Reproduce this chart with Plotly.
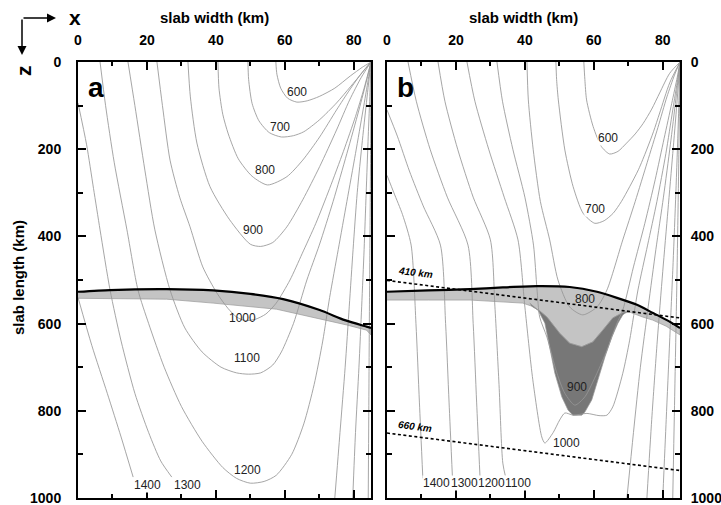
import plotly.graph_objects as go

FONT = "Liberation Sans, Arial, Helvetica, sans-serif"

# ---------------- tick values / labels ----------------
X_TICKS = [0, 20, 40, 60, 80]
X_MINOR = [10, 30, 50, 70]
Z_TICKS = [0, 200, 400, 600, 800, 1000]
Z_MINOR = [100, 300, 500, 700, 900]

# ---------------- panel a isotherms (x km, z km) ----------------
A600_X = [57.4, 57.7, 58.8, 60.8, 63.5, 66.5, 70.0, 74.5, 79.0, 82.5, 85.0]
A600_Z = [0, 28, 60, 83, 92, 89, 79, 60, 32, 12, 0]
A700_X = [49.3, 49.5, 50.5, 52.5, 55.5, 59.0, 62.5, 65.5, 70.0, 75.0, 79.0, 82.5, 85.0]
A700_Z = [0, 40, 95, 135, 162, 172, 169, 160, 133, 94, 57, 24, 0]
A800_X = [40.6, 40.9, 42.0, 43.6, 46.5, 50.5, 55.0, 60.6, 65.2, 70.1, 75.0, 78.8, 82.3, 85.0]
A800_Z = [0, 60, 120, 165, 222, 262, 282, 263, 225, 172, 110, 64, 25, 0]
A900_X = [31.9, 32.6, 34.5, 38.3, 44.0, 50.0, 53.0, 56.5, 60.6, 65.2, 70.1, 75.0, 78.8, 82.2, 85.0]
A900_Z = [0, 80, 186, 286, 362, 418, 423, 414, 378, 316, 240, 156, 87, 35, 0]
A1000_X = [22.9, 24.5, 26.7, 29.5, 32.5, 36.2, 40.3, 43.5, 46.0, 48.5, 51.5, 54.5, 57.5, 61.5,
           65.0, 69.0, 73.0, 77.0, 80.5, 83.0, 85.0]
A1000_Z = [0, 100, 225, 310, 378, 470, 530, 565, 585, 593, 590, 578, 553, 500,
           440, 370, 290, 205, 125, 60, 0]
A1100_X = [14.5, 16.5, 19.4, 22.3, 26.7, 31.0, 36.0, 41.5, 46.0, 49.5, 53.0, 56.5, 59.0, 62.5,
           66.4, 70.0, 74.0, 78.0, 81.5, 83.8, 85.0]
A1100_Z = [0, 100, 248, 385, 523, 610, 665, 700, 713, 716, 713, 695, 665, 600,
           500, 420, 320, 210, 110, 40, 0]
A1200_X = [6.4, 8.0, 10.5, 14.2, 17.4, 20.5, 25.0, 30.0, 36.0, 42.0, 46.0, 50.0, 54.0, 57.5,
           62.0, 65.5, 68.5, 71.0, 73.0, 75.5, 78.0, 80.5, 82.7, 84.2, 85.0]
A1200_Z = [0, 100, 230, 385, 523, 600, 700, 790, 870, 930, 955, 966, 962, 948,
           900, 830, 740, 640, 540, 430, 320, 210, 110, 40, 0]
A1300L_X = [0.0, 2.5, 4.5, 6.4, 9.3, 12.5, 16.5, 20.5, 24.0, 27.2]
A1300L_Z = [94, 190, 290, 385, 523, 640, 760, 850, 915, 952]
A1300R_X = [74.5, 76.0, 77.5, 78.7, 79.8, 81.0, 82.5, 84.0, 85.0]
A1300R_Z = [1000, 850, 700, 560, 430, 300, 180, 70, 0]
A1400L_X = [0.0, 4.0, 8.5, 12.5, 16.0]
A1400L_Z = [540, 650, 760, 860, 952]
A1400R_X = [79.7, 80.5, 81.5, 82.3, 83.0, 83.6, 84.2, 84.7, 85.0]
A1400R_Z = [1000, 850, 700, 560, 430, 300, 170, 70, 0]
A1500R_X = [84.2, 84.4, 84.6, 84.85, 85.0]
A1500R_Z = [1000, 750, 500, 250, 0]

# panel a slab band
A_SLAB_TOP_X = [0, 9.3, 25.7, 39.2, 50.0, 59.5, 70.1, 77.4, 83.7, 85.0]
A_SLAB_TOP_Z = [527, 523, 521, 524, 532, 544, 569, 592, 607, 610]
A_SLAB_BOT_X = [0, 25.7, 39.2, 57.6, 69.2, 77.9, 83.7, 85.0]
A_SLAB_BOT_Z = [542, 544, 553, 567, 588, 603, 615, 626]

# panel a contour labels
A_LAB_TEXT = ["600", "700", "800", "900", "1000", "1100", "1200", "1300", "1400"]
A_LAB_X = [63.5, 58.6, 54.2, 50.7, 47.8, 49.0, 49.3, 31.9, 20.3]
A_LAB_Z = [69, 149, 248, 385, 587, 679, 936, 970, 970]

# ---------------- panel b isotherms ----------------
B600_X = [57.1, 57.4, 57.9, 59.8, 62.2, 64.6, 67.0, 69.5, 72.0, 74.3, 76.8, 79.1, 82.0, 85.0]
B600_Z = [0, 40, 87, 148, 194, 211, 205, 186, 165, 141, 108, 71, 26, 0]
B700_X = [49.0, 49.2, 49.7, 51.6, 54.0, 56.9, 60.3, 63.0, 65.6, 68.0, 70.4, 73.0, 75.3, 77.3, 79.1, 82.0, 85.0]
B700_Z = [0, 40, 87, 202, 286, 347, 370, 364, 347, 320, 286, 246, 202, 160, 117, 48, 0]
B800_X = [40.6, 41.0, 42.4, 44.5, 47.2, 49.6, 53.0, 56.8, 60.9, 63.8, 68.4, 72.0, 75.5, 78.6, 81.2, 83.4, 85.0]
B800_Z = [0, 87, 200, 320, 408, 500, 562, 580, 562, 523, 408, 320, 230, 150, 80, 30, 0]
B900_X = [31.9, 33.5, 36.5, 40.0, 42.5, 43.5, 44.3, 46.4, 49.3, 51.6, 54.5, 57.4, 60.9, 63.8,
          66.7, 68.4, 71.5, 74.8, 77.8, 80.4, 82.6, 84.2, 85.0]
B900_Z = [0, 90, 200, 310, 420, 520, 585, 631, 714, 760, 787, 768, 714, 661,
          599, 569, 470, 370, 270, 175, 95, 35, 0]
B1000_X = [23.2, 25.5, 29.5, 34.0, 38.0, 40.0, 42.3, 44.9, 45.8, 48.2, 50.1, 51.6, 54.0, 58.0,
           61.5, 63.8, 65.5, 68.4, 70.4, 72.8, 75.6, 78.3, 80.9, 82.9, 84.3, 85.0]
B1000_Z = [0, 90, 200, 310, 408, 562, 729, 860, 874, 850, 821, 805, 810, 806,
           811, 810, 791, 714, 638, 523, 420, 320, 210, 110, 40, 0]
B1100L_X = [14.8, 16.8, 20.5, 25.0, 30.0, 31.3, 32.5, 33.6, 34.5]
B1100L_Z = [0, 90, 200, 310, 408, 560, 740, 920, 955]
B1100R_X = [69.6, 71.5, 73.5, 75.8, 78.0, 80.2, 82.2, 83.8, 85.0]
B1100R_Z = [1000, 850, 700, 560, 430, 310, 190, 85, 0]
B1200L_X = [6.1, 8.5, 12.5, 17.5, 23.5, 25.0, 26.0, 27.0]
B1200L_Z = [0, 90, 200, 310, 420, 600, 780, 955]
B1200R_X = [75.4, 76.8, 78.4, 80.0, 81.5, 82.9, 84.1, 85.0]
B1200R_Z = [1000, 820, 640, 480, 340, 210, 95, 0]
B1300L_X = [0.0, 3.0, 6.5, 10.5, 15.5, 17.0, 18.0, 19.0]
B1300L_Z = [110, 170, 250, 330, 420, 600, 780, 955]
B1300R_X = [80.0, 81.0, 82.0, 83.0, 83.8, 84.5, 85.0]
B1300R_Z = [1000, 820, 640, 460, 300, 140, 0]
B1400L_X = [0.0, 2.0, 4.5, 7.0, 8.4, 9.4, 10.4]
B1400L_Z = [260, 300, 350, 420, 600, 780, 955]
B1400R_X = [82.9, 83.5, 84.1, 84.6, 85.0]
B1400R_Z = [1000, 750, 500, 250, 0]

# panel b slab, light and dark regions
B_SLAB_TOP_X = [0, 12, 24.1, 33.6, 43.5, 53.0, 60.9, 66.7, 72.5, 77.0, 81.2, 85.0]
B_SLAB_TOP_Z = [527, 524, 521, 517, 514, 516, 527, 541, 557, 575, 592, 610]
B_LIGHT_BOT_X = [0, 12, 24.1, 33.6, 39.4, 42.0, 44.5, 46.4, 48.3, 50.1, 53.0, 56.5, 59.7, 62.6,
                 65.5, 68.1, 70.5, 74.2, 77.1, 81.0, 85.0]
B_LIGHT_BOT_Z = [546, 546, 546, 550, 553, 560, 572, 585, 603, 622, 645, 653, 642, 615,
                 587, 576, 574, 585, 592, 606, 626]
B_DARK_X = [41.4, 43.8, 45.8, 47.2, 48.7, 50.7, 52.5, 53.9, 56.5, 57.4, 59.4, 61.2, 63.2,
            65.2, 67.0, 68.4, 69.9]
B_DARK_Z = [553, 569, 599, 653, 714, 768, 798, 810, 810, 803, 775, 729, 677,
            631, 599, 580, 571]

# discontinuities
B410_X = [0, 85]
B410_Z = [501, 587]
B660_X = [0, 85]
B660_Z = [851, 937]

B_LAB_TEXT = ["600", "700", "800", "900", "1000", "1100", "1200", "1300", "1400"]
B_LAB_X = [64.1, 60.3, 57.4, 55.0, 52.1, 38.0, 30.4, 22.6, 14.5]
B_LAB_Z = [174, 337, 544, 745, 874, 966, 966, 966, 966]
B_LAB_BG = ["white", "white", "rgba(0,0,0,0)", "rgba(0,0,0,0)", "rgba(0,0,0,0)",
            "white", "white", "white", "white"]

ISO_COLOR = "#969696"
LIGHT = "#c4c4c4"
DARK = "#777777"

fig = go.Figure()


def poly(x, z, xa, ya, color):
    fig.add_trace(go.Scatter(x=x, y=z, mode="lines", fill="toself", fillcolor=color,
                             line=dict(color="#9a9a9a", width=0.7),
                             xaxis=xa, yaxis=ya, hoverinfo="skip"))


def iso(x, z, xa, ya):
    fig.add_trace(go.Scatter(x=x, y=z, mode="lines",
                             line=dict(color=ISO_COLOR, width=0.85, shape="spline", smoothing=0.7),
                             xaxis=xa, yaxis=ya, hoverinfo="skip"))


# ---- fills ----
poly(A_SLAB_TOP_X + A_SLAB_BOT_X[::-1], A_SLAB_TOP_Z + A_SLAB_BOT_Z[::-1], "x", "y", LIGHT)
poly(B_SLAB_TOP_X + B_LIGHT_BOT_X[::-1], B_SLAB_TOP_Z + B_LIGHT_BOT_Z[::-1], "x2", "y2", LIGHT)
u_pts = [(x, z) for x, z in zip(B_LIGHT_BOT_X, B_LIGHT_BOT_Z) if B_DARK_X[0] < x < B_DARK_X[-1]]
poly(B_DARK_X + [p[0] for p in u_pts[::-1]], B_DARK_Z + [p[1] for p in u_pts[::-1]], "x2", "y2", DARK)

# ---- isotherms ----
for xs, zs in [(A600_X, A600_Z), (A700_X, A700_Z), (A800_X, A800_Z), (A900_X, A900_Z),
               (A1000_X, A1000_Z), (A1100_X, A1100_Z), (A1200_X, A1200_Z),
               (A1300L_X, A1300L_Z), (A1300R_X, A1300R_Z), (A1400L_X, A1400L_Z),
               (A1400R_X, A1400R_Z), (A1500R_X, A1500R_Z)]:
    iso(xs, zs, "x", "y")
for xs, zs in [(B600_X, B600_Z), (B700_X, B700_Z), (B800_X, B800_Z), (B900_X, B900_Z),
               (B1000_X, B1000_Z), (B1100L_X, B1100L_Z), (B1100R_X, B1100R_Z),
               (B1200L_X, B1200L_Z), (B1200R_X, B1200R_Z), (B1300L_X, B1300L_Z),
               (B1300R_X, B1300R_Z), (B1400L_X, B1400L_Z), (B1400R_X, B1400R_Z)]:
    iso(xs, zs, "x2", "y2")

# ---- slab top (black) ----
for xs, zs, xa, ya in [(A_SLAB_TOP_X, A_SLAB_TOP_Z, "x", "y"), (B_SLAB_TOP_X, B_SLAB_TOP_Z, "x2", "y2")]:
    fig.add_trace(go.Scatter(x=xs, y=zs, mode="lines",
                             line=dict(color="black", width=2.2, shape="spline", smoothing=0.6),
                             xaxis=xa, yaxis=ya, hoverinfo="skip"))

# ---- 410 / 660 dashed ----
for xs, zs in [(B410_X, B410_Z), (B660_X, B660_Z)]:
    fig.add_trace(go.Scatter(x=xs, y=zs, mode="lines",
                             line=dict(color="black", width=1.6, dash="3px,2.5px"),
                             xaxis="x2", yaxis="y2", hoverinfo="skip"))

C = dict(xanchor="center", yanchor="middle")
annotations = []
for t, x, z in zip(A_LAB_TEXT, A_LAB_X, A_LAB_Z):
    annotations.append(dict(x=x, y=z, xref="x", yref="y", text=t, showarrow=False,
                            font=dict(family=FONT, size=12, color="#222"),
                            bgcolor="white" if t in ("1300", "1400") else "rgba(0,0,0,0)",
                            borderpad=0, **C))
for t, x, z, bg in zip(B_LAB_TEXT, B_LAB_X, B_LAB_Z, B_LAB_BG):
    annotations.append(dict(x=x, y=z, xref="x2", yref="y2", text=t, showarrow=False,
                            font=dict(family=FONT, size=12, color="#222"),
                            bgcolor=bg, borderpad=0, **C))

W, H = 721, 505


def px(x):
    return x / W


def py(y):
    return 1 - y / H


bold = dict(family=FONT, size=15, color="black", weight="bold")
annotations += [
    dict(x=px(215), y=py(17), xref="paper", yref="paper", text="slab width (km)", showarrow=False,
         font=bold, **C),
    dict(x=px(523), y=py(17), xref="paper", yref="paper", text="slab width (km)", showarrow=False,
         font=bold, **C),
    dict(x=px(18), y=py(278), xref="paper", yref="paper", text="slab length (km)", showarrow=False,
         font=bold, textangle=-90, **C),
    dict(x=px(96), y=py(88), xref="paper", yref="paper", text="a", showarrow=False,
         font=dict(family=FONT, size=28, color="black", weight="bold"), **C),
    dict(x=px(405), y=py(88), xref="paper", yref="paper", text="b", showarrow=False,
         font=dict(family=FONT, size=28, color="black", weight="bold"), **C),
    dict(x=px(75), y=py(17), xref="paper", yref="paper", text="x", showarrow=False,
         font=dict(family=FONT, size=21, color="black", weight="bold"), **C),
    dict(x=px(23), y=py(71), xref="paper", yref="paper", text="z", showarrow=False, textangle=-90,
         font=dict(family=FONT, size=21, color="black", weight="bold"), **C),
    dict(x=px(56), y=py(18), xref="paper", yref="paper", text="", showarrow=True,
         ax=-34, ay=0, arrowhead=2, arrowsize=1.2, arrowwidth=1.5, arrowcolor="black"),
    dict(x=px(22), y=py(55), xref="paper", yref="paper", text="", showarrow=True,
         ax=0, ay=-37, arrowhead=2, arrowsize=1.2, arrowwidth=1.5, arrowcolor="black"),
    dict(x=8.2, y=482, xref="x2", yref="y2", text="<i>410 km</i>", showarrow=False, textangle=7,
         font=dict(family=FONT, size=10, color="black", weight="bold"), **C),
    dict(x=8.2, y=836, xref="x2", yref="y2", text="<i>660 km</i>", showarrow=False, textangle=7,
         font=dict(family=FONT, size=10, color="black", weight="bold"), **C),
]

tickfont = dict(family=FONT, size=14, color="black", weight="bold")
common = dict(showgrid=False, zeroline=False, showline=True, linewidth=2, linecolor="black",
              ticks="inside", ticklen=8, tickwidth=2, tickcolor="black", mirror="ticks",
              tickfont=tickfont, automargin=False, ticklabeloverflow="allow")
ydom = [1 - 498 / H, 1 - 62 / H]

fig.update_layout(
    width=W, height=H, margin=dict(l=0, r=0, t=0, b=0, pad=0, autoexpand=False),
    paper_bgcolor="white", plot_bgcolor="white", showlegend=False,
    xaxis=dict(domain=[78 / W, 371 / W], range=[0, 85], side="top", anchor="y",
               tickvals=X_TICKS, ticktext=[str(v) for v in X_TICKS], ticklabelstandoff=9,
               minor=dict(tickvals=X_MINOR, ticks="inside", ticklen=4, tickwidth=2, tickcolor="black"),
               **common),
    yaxis=dict(domain=ydom, range=[1000, 0], side="left", anchor="x",
               tickvals=Z_TICKS, ticktext=[str(v) for v in Z_TICKS], ticklabelstandoff=12,
               minor=dict(tickvals=Z_MINOR, ticks="inside", ticklen=5, tickwidth=2, tickcolor="black"),
               **common),
    xaxis2=dict(domain=[387 / W, 680 / W], range=[0, 85], side="top", anchor="y2",
                tickvals=X_TICKS, ticktext=[str(v) for v in X_TICKS], ticklabelstandoff=9,
                minor=dict(tickvals=X_MINOR, ticks="inside", ticklen=4, tickwidth=2, tickcolor="black"),
                **common),
    yaxis2=dict(domain=ydom, range=[1000, 0], side="right", anchor="x2",
                tickvals=Z_TICKS, ticktext=[str(v) for v in Z_TICKS], ticklabelstandoff=6,
                minor=dict(tickvals=Z_MINOR, ticks="inside", ticklen=5, tickwidth=2, tickcolor="black"),
                **common),
    annotations=annotations,
)

fig.write_html("out.html", config={"displayModeBar": False},
               post_script="document.body.style.margin='0px';document.body.style.overflow='hidden';")
